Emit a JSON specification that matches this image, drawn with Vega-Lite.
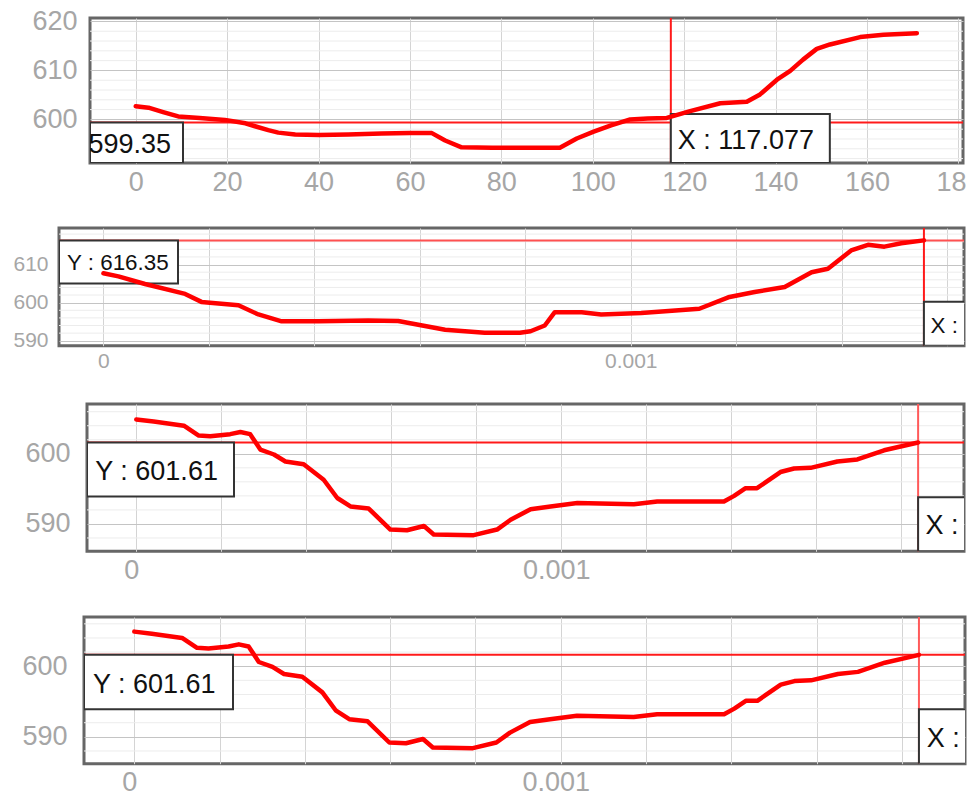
{
  "$schema": "https://vega.github.io/schema/vega-lite/v6.json",
  "padding": {"left": 0, "top": 5, "right": 0, "bottom": 0},
  "spacing": 0,
  "config": {
    "view": {"stroke": "#666666", "strokeWidth": 3},
    "axis": {"labelFont": "Liberation Sans", "labelColor": "#a6a6a6", "ticks": false, "domain": false, "labelOverlap": false, "labelFlush": false, "gridWidth": 1}
  },
  "datasets": {
    "p1": [
      {"x": 0, "y": 602.7}, {"x": 2.8, "y": 602.4}, {"x": 6, "y": 601.5}, {"x": 9.3, "y": 600.6}, {"x": 14, "y": 600.3},
      {"x": 19.5, "y": 599.9}, {"x": 24, "y": 599.2}, {"x": 26.1, "y": 598.6}, {"x": 29, "y": 597.8}, {"x": 31.2, "y": 597.3},
      {"x": 34.9, "y": 596.9}, {"x": 40, "y": 596.8}, {"x": 46.5, "y": 596.9}, {"x": 53.8, "y": 597.1}, {"x": 60, "y": 597.2},
      {"x": 64.8, "y": 597.2}, {"x": 67.7, "y": 595.7}, {"x": 71.3, "y": 594.3}, {"x": 78, "y": 594.2}, {"x": 86.7, "y": 594.2},
      {"x": 92.8, "y": 594.2}, {"x": 96.5, "y": 596.1}, {"x": 100.2, "y": 597.5}, {"x": 104, "y": 598.8}, {"x": 108.2, "y": 600.0},
      {"x": 112, "y": 600.2}, {"x": 116.2, "y": 600.3}, {"x": 121.3, "y": 601.7}, {"x": 127.9, "y": 603.3}, {"x": 133.7, "y": 603.6},
      {"x": 136.6, "y": 605.1}, {"x": 140.3, "y": 608.1}, {"x": 143.2, "y": 609.9}, {"x": 146, "y": 612.2}, {"x": 149.0, "y": 614.4},
      {"x": 151.9, "y": 615.3}, {"x": 158.5, "y": 616.8}, {"x": 163.6, "y": 617.3}, {"x": 170.9, "y": 617.6}
    ],
    "p2": [
      {"x": 0, "y": 607.7}, {"x": 0.0000284, "y": 606.9}, {"x": 0.0000789, "y": 604.9}, {"x": 0.000155, "y": 602.3},
      {"x": 0.000186, "y": 600.2}, {"x": 0.000256, "y": 599.3}, {"x": 0.000294, "y": 596.9}, {"x": 0.000338, "y": 595.1},
      {"x": 0.000408, "y": 595.1}, {"x": 0.000502, "y": 595.3}, {"x": 0.000559, "y": 595.2}, {"x": 0.000648, "y": 592.9},
      {"x": 0.000723, "y": 592.1}, {"x": 0.00079, "y": 592.1}, {"x": 0.00081, "y": 592.5}, {"x": 0.000837, "y": 594.0},
      {"x": 0.000856, "y": 597.5}, {"x": 0.000907, "y": 597.5}, {"x": 0.000944, "y": 596.9}, {"x": 0.00102, "y": 597.3},
      {"x": 0.00113, "y": 598.4}, {"x": 0.001185, "y": 601.4}, {"x": 0.001235, "y": 602.8}, {"x": 0.001292, "y": 604.1},
      {"x": 0.001343, "y": 608.0}, {"x": 0.001374, "y": 608.9}, {"x": 0.001418, "y": 613.7}, {"x": 0.00145, "y": 615.2},
      {"x": 0.001481, "y": 614.7}, {"x": 0.001513, "y": 615.6}, {"x": 0.001556, "y": 616.35}
    ],
    "p3": [
      {"x": 0, "y": 604.9}, {"x": 0.000041, "y": 604.6}, {"x": 0.000112, "y": 604.0}, {"x": 0.000147, "y": 602.6},
      {"x": 0.000174, "y": 602.5}, {"x": 0.000221, "y": 602.8}, {"x": 0.000245, "y": 603.1}, {"x": 0.000268, "y": 602.8},
      {"x": 0.000292, "y": 600.6}, {"x": 0.000324, "y": 599.9}, {"x": 0.000351, "y": 598.9}, {"x": 0.000394, "y": 598.5},
      {"x": 0.000441, "y": 596.3}, {"x": 0.000473, "y": 593.7}, {"x": 0.000504, "y": 592.5}, {"x": 0.000547, "y": 592.2},
      {"x": 0.000598, "y": 589.2}, {"x": 0.000637, "y": 589.1}, {"x": 0.000677, "y": 589.7}, {"x": 0.0007, "y": 588.5},
      {"x": 0.000794, "y": 588.4}, {"x": 0.000849, "y": 589.2}, {"x": 0.000881, "y": 590.6}, {"x": 0.000928, "y": 592.1},
      {"x": 0.000975, "y": 592.5}, {"x": 0.001038, "y": 593.0}, {"x": 0.001171, "y": 592.8}, {"x": 0.001226, "y": 593.2},
      {"x": 0.001383, "y": 593.2}, {"x": 0.001407, "y": 594.0}, {"x": 0.001434, "y": 595.1}, {"x": 0.001461, "y": 595.1},
      {"x": 0.001516, "y": 597.4}, {"x": 0.001548, "y": 597.9}, {"x": 0.001587, "y": 598.0}, {"x": 0.00165, "y": 598.9},
      {"x": 0.001697, "y": 599.2}, {"x": 0.00176, "y": 600.5}, {"x": 0.00184, "y": 601.61}
    ],
    "g1": [{"gy": 592}, {"gy": 594}, {"gy": 596}, {"gy": 598}, {"gy": 602}, {"gy": 604}, {"gy": 606}, {"gy": 608}, {"gy": 612}, {"gy": 614}, {"gy": 616}, {"gy": 618}],
    "g2": [{"gy": 592}, {"gy": 594}, {"gy": 596}, {"gy": 598}, {"gy": 602}, {"gy": 604}, {"gy": 606}, {"gy": 608}, {"gy": 612}, {"gy": 614}, {"gy": 616}, {"gy": 618}],
    "g3": [{"gy": 588}, {"gy": 592}, {"gy": 594}, {"gy": 596}, {"gy": 598}, {"gy": 602}, {"gy": 604}, {"gy": 606}],
    "sp": [{"s": 0}],
    "c1": [{"cx": 117.077, "cy": 599.35, "ylab": "Y : 599.35", "xlab": "X : 117.077"}],
    "c2": [{"cx": 0.001556, "cy": 616.35, "ylab": "Y : 616.35", "xlab": "X : 0.00155583"}],
    "c3": [{"cx": 0.00184, "cy": 601.61, "ylab": "Y : 601.61", "xlab": "X : 0.00184012"}]
  },
  "vconcat": [
    {"spacing": 0, "hconcat": [
    {"width": 28, "height": 1, "view": {"stroke": null}, "data": {"name": "sp"}, "mark": {"type": "point", "opacity": 0}},
    {
      "width": 873, "height": 145,
      "layer": [
        {"data": {"name": "g1"}, "mark": {"type": "rule", "color": "#ececec", "strokeWidth": 1},
         "encoding": {"y": {"field": "gy", "type": "quantitative", "scale": {"domain": [591.1, 620.7], "nice": false, "zero": false}, "axis": {"title": null}}}},
        {"data": {"name": "p1"}, "mark": {"type": "line", "color": "#ff0000", "strokeWidth": 4.5, "opacity": 0},
         "encoding": {
           "x": {"field": "x", "type": "quantitative", "scale": {"domain": [-10, 181], "nice": false, "zero": false},
                 "axis": {"title": null, "values": [0, 20, 40, 60, 80, 100, 120, 140, 160, 180], "grid": true, "gridColor": "#d4d4d4", "labelOverlap": false, "labelFontSize": 27, "labelPadding": 6, "minExtent": 60.5, "maxExtent": 60.5}},
           "y": {"field": "y", "type": "quantitative", "scale": {"domain": [591.1, 620.7], "nice": false, "zero": false},
                 "axis": {"title": null, "values": [600, 610, 620], "grid": true, "gridColor": "#c4c4c4", "labelOverlap": false, "labelFontSize": 27, "labelPadding": 13, "minExtent": 60, "maxExtent": 60}}}},
        {"data": {"name": "c1"}, "mark": {"type": "rule", "color": "#ff1a1a", "strokeWidth": 2},
         "encoding": {"x": {"field": "cx", "type": "quantitative", "scale": {"domain": [-10, 181], "nice": false, "zero": false}, "axis": {"title": null}}}},
        {"data": {"name": "c1"}, "mark": {"type": "rule", "color": "#ff1a1a", "strokeWidth": 2},
         "encoding": {"y": {"field": "cy", "type": "quantitative", "scale": {"domain": [591.1, 620.7], "nice": false, "zero": false}, "axis": {"title": null}}}},
        {"data": {"name": "c1"}, "mark": {"type": "rect", "fill": "#ffffff", "stroke": "#333333", "strokeWidth": 2, "clip": true, "x2Offset": 93},
         "encoding": {
           "x": {"datum": -10, "type": "quantitative", "scale": {"domain": [-10, 181], "nice": false, "zero": false}, "axis": {"title": null}},
           "x2": {"datum": -10},
           "y": {"field": "cy", "type": "quantitative", "scale": {"domain": [591.1, 620.7], "nice": false, "zero": false}, "axis": {"title": null}},
           "y2": {"datum": 591.1}}},
        {"data": {"name": "c1"}, "mark": {"type": "rect", "fill": "#ffffff", "stroke": "#333333", "strokeWidth": 2, "clip": true, "x2Offset": 159, "y2Offset": -49},
         "encoding": {
           "x": {"field": "cx", "type": "quantitative", "scale": {"domain": [-10, 181], "nice": false, "zero": false}, "axis": {"title": null}},
           "x2": {"field": "cx"},
           "y": {"datum": 591.1, "type": "quantitative", "scale": {"domain": [591.1, 620.7], "nice": false, "zero": false}, "axis": {"title": null}},
           "y2": {"datum": 591.1}}},
        {"data": {"name": "c1"}, "mark": {"type": "text", "align": "right", "baseline": "middle", "dx": 81, "dy": 22, "fontSize": 27, "font": "Liberation Sans", "fill": "#111111", "clip": true},
         "encoding": {
           "x": {"datum": -10, "type": "quantitative", "scale": {"domain": [-10, 181], "nice": false, "zero": false}, "axis": {"title": null}},
           "y": {"field": "cy", "type": "quantitative", "scale": {"domain": [591.1, 620.7], "nice": false, "zero": false}, "axis": {"title": null}},
           "text": {"field": "ylab"}}},
        {"data": {"name": "c1"}, "mark": {"type": "text", "align": "left", "baseline": "middle", "dx": 7, "dy": -22, "fontSize": 27, "font": "Liberation Sans", "fill": "#111111", "clip": true},
         "encoding": {
           "x": {"field": "cx", "type": "quantitative", "scale": {"domain": [-10, 181], "nice": false, "zero": false}, "axis": {"title": null}},
           "y": {"datum": 591.1, "type": "quantitative", "scale": {"domain": [591.1, 620.7], "nice": false, "zero": false}, "axis": {"title": null}},
           "text": {"field": "xlab"}}},
        {"data": {"name": "p1"}, "mark": {"type": "line", "color": "#ff0000", "strokeWidth": 4.5, "strokeCap": "round", "strokeJoin": "round"},
         "encoding": {
           "x": {"field": "x", "type": "quantitative", "scale": {"domain": [-10, 181], "nice": false, "zero": false}, "axis": {"title": null}},
           "y": {"field": "y", "type": "quantitative", "scale": {"domain": [591.1, 620.7], "nice": false, "zero": false}, "axis": {"title": null}}}}
      ]
    }]},
    {"spacing": 0, "hconcat": [
    {"width": 7, "height": 1, "view": {"stroke": null}, "data": {"name": "sp"}, "mark": {"type": "point", "opacity": 0}},
    {
      "width": 905, "height": 117.7,
      "layer": [
        {"data": {"name": "g2"}, "mark": {"type": "rule", "color": "#ececec", "strokeWidth": 1},
         "encoding": {"y": {"field": "gy", "type": "quantitative", "scale": {"domain": [588.7, 619.6], "nice": false, "zero": false}, "axis": {"title": null}}}},
        {"data": {"name": "p2"}, "mark": {"type": "line", "color": "#ff0000", "strokeWidth": 4.5, "opacity": 0},
         "encoding": {
           "x": {"field": "x", "type": "quantitative", "scale": {"domain": [-0.0000842, 0.001632], "nice": false, "zero": false},
                 "axis": {"title": null, "values": [0, 0.0002, 0.0004, 0.0006, 0.0008, 0.001, 0.0012, 0.0014, 0.0016], "grid": true, "gridColor": "#d4d4d4", "labelOverlap": false,
                          "labelExpr": "datum.value === 0 ? '0' : datum.value === 0.001 ? '0.001' : ''", "labelFontSize": 21, "labelPadding": 5, "minExtent": 53, "maxExtent": 53}},
           "y": {"field": "y", "type": "quantitative", "scale": {"domain": [588.7, 619.6], "nice": false, "zero": false},
                 "axis": {"title": null, "values": [590, 600, 610], "grid": true, "gridColor": "#c4c4c4", "labelOverlap": false, "labelFontSize": 21, "labelPadding": 11, "minExtent": 50, "maxExtent": 50}}}},
        {"data": {"name": "c2"}, "mark": {"type": "rule", "color": "#ff1a1a", "strokeWidth": 2},
         "encoding": {"x": {"field": "cx", "type": "quantitative", "scale": {"domain": [-0.0000842, 0.001632], "nice": false, "zero": false}, "axis": {"title": null}}}},
        {"data": {"name": "c2"}, "mark": {"type": "rule", "color": "#ff5050", "strokeWidth": 2},
         "encoding": {"y": {"field": "cy", "type": "quantitative", "scale": {"domain": [588.7, 619.6], "nice": false, "zero": false}, "axis": {"title": null}}}},
        {"data": {"name": "c2"}, "mark": {"type": "rect", "fill": "#ffffff", "stroke": "#333333", "strokeWidth": 2, "clip": true, "x2Offset": 119, "y2Offset": 43},
         "encoding": {
           "x": {"datum": -0.0000842, "type": "quantitative", "scale": {"domain": [-0.0000842, 0.001632], "nice": false, "zero": false}, "axis": {"title": null}},
           "x2": {"datum": -0.0000842},
           "y": {"field": "cy", "type": "quantitative", "scale": {"domain": [588.7, 619.6], "nice": false, "zero": false}, "axis": {"title": null}},
           "y2": {"field": "cy"}}},
        {"data": {"name": "c2"}, "mark": {"type": "rect", "fill": "#ffffff", "stroke": "#333333", "strokeWidth": 2, "clip": true, "x2Offset": 60, "y2Offset": -44},
         "encoding": {
           "x": {"field": "cx", "type": "quantitative", "scale": {"domain": [-0.0000842, 0.001632], "nice": false, "zero": false}, "axis": {"title": null}},
           "x2": {"field": "cx"},
           "y": {"datum": 588.7, "type": "quantitative", "scale": {"domain": [588.7, 619.6], "nice": false, "zero": false}, "axis": {"title": null}},
           "y2": {"datum": 588.7}}},
        {"data": {"name": "c2"}, "mark": {"type": "text", "align": "left", "baseline": "middle", "dx": 8, "dy": 23, "fontSize": 22.4, "font": "Liberation Sans", "fill": "#111111", "clip": true},
         "encoding": {
           "x": {"datum": -0.0000842, "type": "quantitative", "scale": {"domain": [-0.0000842, 0.001632], "nice": false, "zero": false}, "axis": {"title": null}},
           "y": {"field": "cy", "type": "quantitative", "scale": {"domain": [588.7, 619.6], "nice": false, "zero": false}, "axis": {"title": null}},
           "text": {"field": "ylab"}}},
        {"data": {"name": "c2"}, "mark": {"type": "text", "align": "left", "baseline": "middle", "dx": 6.6, "dy": -20, "fontSize": 22.4, "font": "Liberation Sans", "fill": "#111111", "clip": true},
         "encoding": {
           "x": {"field": "cx", "type": "quantitative", "scale": {"domain": [-0.0000842, 0.001632], "nice": false, "zero": false}, "axis": {"title": null}},
           "y": {"datum": 588.7, "type": "quantitative", "scale": {"domain": [588.7, 619.6], "nice": false, "zero": false}, "axis": {"title": null}},
           "text": {"field": "xlab"}}},
        {"data": {"name": "p2"}, "mark": {"type": "line", "color": "#ff0000", "strokeWidth": 4.5, "strokeCap": "round", "strokeJoin": "round"},
         "encoding": {
           "x": {"field": "x", "type": "quantitative", "scale": {"domain": [-0.0000842, 0.001632], "nice": false, "zero": false}, "axis": {"title": null}},
           "y": {"field": "y", "type": "quantitative", "scale": {"domain": [588.7, 619.6], "nice": false, "zero": false}, "axis": {"title": null}}}}
      ]
    }]},
    {"spacing": 0, "hconcat": [
    {"width": 22, "height": 1, "view": {"stroke": null}, "data": {"name": "sp"}, "mark": {"type": "point", "opacity": 0}},
    {
      "width": 877, "height": 147.3,
      "layer": [
        {"data": {"name": "g3"}, "mark": {"type": "rule", "color": "#ececec", "strokeWidth": 1},
         "encoding": {"y": {"field": "gy", "type": "quantitative", "scale": {"domain": [586.1, 607.1], "nice": false, "zero": false}, "axis": {"title": null}}}},
        {"data": {"name": "p3"}, "mark": {"type": "line", "color": "#ff0000", "strokeWidth": 4.5, "opacity": 0},
         "encoding": {
           "x": {"field": "x", "type": "quantitative", "scale": {"domain": [-0.000116, 0.001948], "nice": false, "zero": false},
                 "axis": {"title": null, "values": [0, 0.0002, 0.0004, 0.0006, 0.0008, 0.001, 0.0012, 0.0014, 0.0016, 0.0018], "grid": true, "gridColor": "#d4d4d4", "labelOverlap": false,
                          "labelExpr": "datum.value === 0 ? '0' : datum.value === 0.001 ? '0.001' : ''", "labelFontSize": 27, "labelPadding": 6, "labelOffset": -5, "minExtent": 60.8, "maxExtent": 60.8}},
           "y": {"field": "y", "type": "quantitative", "scale": {"domain": [586.1, 607.1], "nice": false, "zero": false},
                 "axis": {"title": null, "values": [590, 600], "grid": true, "gridColor": "#c4c4c4", "labelOverlap": false, "labelFontSize": 27, "labelPadding": 17, "minExtent": 63, "maxExtent": 63}}}},
        {"data": {"name": "c3"}, "mark": {"type": "rule", "color": "#ff5a5a", "strokeWidth": 2},
         "encoding": {"x": {"field": "cx", "type": "quantitative", "scale": {"domain": [-0.000116, 0.001948], "nice": false, "zero": false}, "axis": {"title": null}}}},
        {"data": {"name": "c3"}, "mark": {"type": "rule", "color": "#ff1a1a", "strokeWidth": 2},
         "encoding": {"y": {"field": "cy", "type": "quantitative", "scale": {"domain": [586.1, 607.1], "nice": false, "zero": false}, "axis": {"title": null}}}},
        {"data": {"name": "c3"}, "mark": {"type": "rect", "fill": "#ffffff", "stroke": "#333333", "strokeWidth": 2, "clip": true, "x2Offset": 147, "y2Offset": 54},
         "encoding": {
           "x": {"datum": -0.000116, "type": "quantitative", "scale": {"domain": [-0.000116, 0.001948], "nice": false, "zero": false}, "axis": {"title": null}},
           "x2": {"datum": -0.000116},
           "y": {"field": "cy", "type": "quantitative", "scale": {"domain": [586.1, 607.1], "nice": false, "zero": false}, "axis": {"title": null}},
           "y2": {"field": "cy"}}},
        {"data": {"name": "c3"}, "mark": {"type": "rect", "fill": "#ffffff", "stroke": "#333333", "strokeWidth": 2, "clip": true, "x2Offset": 60, "y2Offset": -54},
         "encoding": {
           "x": {"field": "cx", "type": "quantitative", "scale": {"domain": [-0.000116, 0.001948], "nice": false, "zero": false}, "axis": {"title": null}},
           "x2": {"field": "cx"},
           "y": {"datum": 586.1, "type": "quantitative", "scale": {"domain": [586.1, 607.1], "nice": false, "zero": false}, "axis": {"title": null}},
           "y2": {"datum": 586.1}}},
        {"data": {"name": "c3"}, "mark": {"type": "text", "align": "left", "baseline": "middle", "dx": 8.3, "dy": 29, "fontSize": 27, "font": "Liberation Sans", "fill": "#111111", "clip": true},
         "encoding": {
           "x": {"datum": -0.000116, "type": "quantitative", "scale": {"domain": [-0.000116, 0.001948], "nice": false, "zero": false}, "axis": {"title": null}},
           "y": {"field": "cy", "type": "quantitative", "scale": {"domain": [586.1, 607.1], "nice": false, "zero": false}, "axis": {"title": null}},
           "text": {"field": "ylab"}}},
        {"data": {"name": "c3"}, "mark": {"type": "text", "align": "left", "baseline": "middle", "dx": 7.3, "dy": -25, "fontSize": 27, "font": "Liberation Sans", "fill": "#111111", "clip": true},
         "encoding": {
           "x": {"field": "cx", "type": "quantitative", "scale": {"domain": [-0.000116, 0.001948], "nice": false, "zero": false}, "axis": {"title": null}},
           "y": {"datum": 586.1, "type": "quantitative", "scale": {"domain": [586.1, 607.1], "nice": false, "zero": false}, "axis": {"title": null}},
           "text": {"field": "xlab"}}},
        {"data": {"name": "p3"}, "mark": {"type": "line", "color": "#ff0000", "strokeWidth": 4.5, "strokeCap": "round", "strokeJoin": "round"},
         "encoding": {
           "x": {"field": "x", "type": "quantitative", "scale": {"domain": [-0.000116, 0.001948], "nice": false, "zero": false}, "axis": {"title": null}},
           "y": {"field": "y", "type": "quantitative", "scale": {"domain": [586.1, 607.1], "nice": false, "zero": false}, "axis": {"title": null}}}}
      ]
    }]},
    {"spacing": 0, "hconcat": [
    {"width": 19, "height": 1, "view": {"stroke": null}, "data": {"name": "sp"}, "mark": {"type": "point", "opacity": 0}},
    {
      "width": 881, "height": 146.7,
      "layer": [
        {"data": {"name": "g3"}, "mark": {"type": "rule", "color": "#ececec", "strokeWidth": 1},
         "encoding": {"y": {"field": "gy", "type": "quantitative", "scale": {"domain": [586.2, 606.97], "nice": false, "zero": false}, "axis": {"title": null}}}},
        {"data": {"name": "p3"}, "mark": {"type": "line", "color": "#ff0000", "strokeWidth": 4.5, "opacity": 0},
         "encoding": {
           "x": {"field": "x", "type": "quantitative", "scale": {"domain": [-0.000118, 0.001948], "nice": false, "zero": false},
                 "axis": {"title": null, "values": [0, 0.0002, 0.0004, 0.0006, 0.0008, 0.001, 0.0012, 0.0014, 0.0016, 0.0018], "grid": true, "gridColor": "#d4d4d4", "labelOverlap": false,
                          "labelExpr": "datum.value === 0 ? '0' : datum.value === 0.001 ? '0.001' : ''", "labelFontSize": 27, "labelPadding": 6, "labelOffset": -5}},
           "y": {"field": "y", "type": "quantitative", "scale": {"domain": [586.2, 606.97], "nice": false, "zero": false},
                 "axis": {"title": null, "values": [590, 600], "grid": true, "gridColor": "#c4c4c4", "labelOverlap": false, "labelFontSize": 27, "labelPadding": 17, "minExtent": 63, "maxExtent": 63}}}},
        {"data": {"name": "c3"}, "mark": {"type": "rule", "color": "#ff5a5a", "strokeWidth": 2},
         "encoding": {"x": {"field": "cx", "type": "quantitative", "scale": {"domain": [-0.000118, 0.001948], "nice": false, "zero": false}, "axis": {"title": null}}}},
        {"data": {"name": "c3"}, "mark": {"type": "rule", "color": "#ff1a1a", "strokeWidth": 2},
         "encoding": {"y": {"field": "cy", "type": "quantitative", "scale": {"domain": [586.2, 606.97], "nice": false, "zero": false}, "axis": {"title": null}}}},
        {"data": {"name": "c3"}, "mark": {"type": "rect", "fill": "#ffffff", "stroke": "#333333", "strokeWidth": 2, "clip": true, "x2Offset": 149, "y2Offset": 54.4},
         "encoding": {
           "x": {"datum": -0.000118, "type": "quantitative", "scale": {"domain": [-0.000118, 0.001948], "nice": false, "zero": false}, "axis": {"title": null}},
           "x2": {"datum": -0.000118},
           "y": {"field": "cy", "type": "quantitative", "scale": {"domain": [586.2, 606.97], "nice": false, "zero": false}, "axis": {"title": null}},
           "y2": {"field": "cy"}}},
        {"data": {"name": "c3"}, "mark": {"type": "rect", "fill": "#ffffff", "stroke": "#333333", "strokeWidth": 2, "clip": true, "x2Offset": 60, "y2Offset": -54.4},
         "encoding": {
           "x": {"field": "cx", "type": "quantitative", "scale": {"domain": [-0.000118, 0.001948], "nice": false, "zero": false}, "axis": {"title": null}},
           "x2": {"field": "cx"},
           "y": {"datum": 586.2, "type": "quantitative", "scale": {"domain": [586.2, 606.97], "nice": false, "zero": false}, "axis": {"title": null}},
           "y2": {"datum": 586.2}}},
        {"data": {"name": "c3"}, "mark": {"type": "text", "align": "left", "baseline": "middle", "dx": 9, "dy": 30, "fontSize": 27, "font": "Liberation Sans", "fill": "#111111", "clip": true},
         "encoding": {
           "x": {"datum": -0.000118, "type": "quantitative", "scale": {"domain": [-0.000118, 0.001948], "nice": false, "zero": false}, "axis": {"title": null}},
           "y": {"field": "cy", "type": "quantitative", "scale": {"domain": [586.2, 606.97], "nice": false, "zero": false}, "axis": {"title": null}},
           "text": {"field": "ylab"}}},
        {"data": {"name": "c3"}, "mark": {"type": "text", "align": "left", "baseline": "middle", "dx": 7.7, "dy": -25, "fontSize": 27, "font": "Liberation Sans", "fill": "#111111", "clip": true},
         "encoding": {
           "x": {"field": "cx", "type": "quantitative", "scale": {"domain": [-0.000118, 0.001948], "nice": false, "zero": false}, "axis": {"title": null}},
           "y": {"datum": 586.2, "type": "quantitative", "scale": {"domain": [586.2, 606.97], "nice": false, "zero": false}, "axis": {"title": null}},
           "text": {"field": "xlab"}}},
        {"data": {"name": "p3"}, "mark": {"type": "line", "color": "#ff0000", "strokeWidth": 4.5, "strokeCap": "round", "strokeJoin": "round"},
         "encoding": {
           "x": {"field": "x", "type": "quantitative", "scale": {"domain": [-0.000118, 0.001948], "nice": false, "zero": false}, "axis": {"title": null}},
           "y": {"field": "y", "type": "quantitative", "scale": {"domain": [586.2, 606.97], "nice": false, "zero": false}, "axis": {"title": null}}}}
      ]
    }]}
  ]
}
